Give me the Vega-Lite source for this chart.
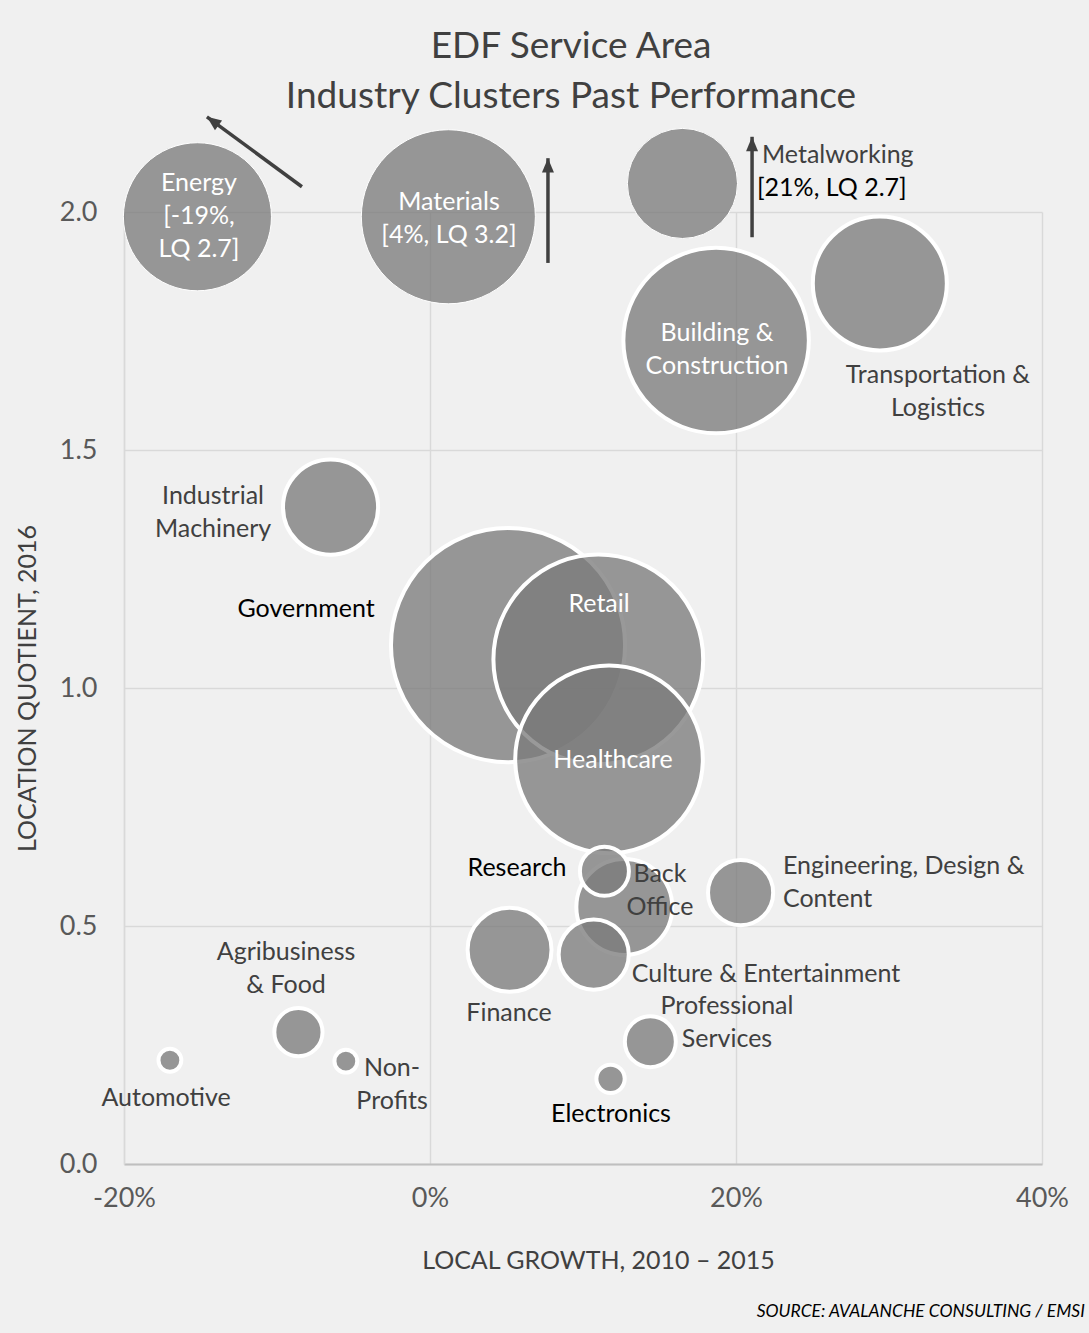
{
  "$schema": "https://vega.github.io/schema/vega-lite/v6.json",
  "autosize": "none",
  "width": 918,
  "height": 952,
  "padding": {"left": 124, "top": 212, "right": 47, "bottom": 169},
  "background": "#f0f0f0",
  "config": {
    "font": "Lato",
    "view": {"stroke": null},
    "axis": {
      "labelFont": "Lato",
      "titleFont": "Lato",
      "labelFontSize": 27,
      "labelColor": "#595959",
      "titleFontSize": 25,
      "titleFontWeight": "normal",
      "titleColor": "#404040",
      "gridColor": "#d9d9d9",
      "gridWidth": 1.5,
      "ticks": false,
      "labelFlush": false
    }
  },
  "title": {
    "text": ["EDF Service Area", "Industry Clusters Past Performance"],
    "font": "Lato",
    "fontSize": 37,
    "fontWeight": "normal",
    "color": "#404040",
    "anchor": "middle",
    "lineHeight": 50,
    "dx": -12,
    "offset": -1
  },
  "datasets": {
    "clusters": [
      {"cluster": "Energy", "growth": -15.2, "lq": 1.99, "jobs": 54.8, "offScale": true},
      {"cluster": "Materials", "growth": 1.2, "lq": 1.99, "jobs": 75.7, "offScale": true},
      {"cluster": "Metalworking", "growth": 16.5, "lq": 2.06, "jobs": 30.3, "offScale": true},
      {"cluster": "Building & Construction", "growth": 18.7, "lq": 1.73, "jobs": 86, "offScale": false},
      {"cluster": "Transportation & Logistics", "growth": 29.4, "lq": 1.85, "jobs": 44.9, "offScale": false},
      {"cluster": "Industrial Machinery", "growth": -6.5, "lq": 1.38, "jobs": 22.6, "offScale": false},
      {"cluster": "Government", "growth": 5.1, "lq": 1.09, "jobs": 137, "offScale": false},
      {"cluster": "Retail", "growth": 11.0, "lq": 1.06, "jobs": 110, "offScale": false},
      {"cluster": "Healthcare", "growth": 11.7, "lq": 0.85, "jobs": 88, "offScale": false},
      {"cluster": "Back Office", "growth": 12.7, "lq": 0.54, "jobs": 23, "offScale": false},
      {"cluster": "Research", "growth": 11.4, "lq": 0.615, "jobs": 6, "offScale": false},
      {"cluster": "Engineering, Design & Content", "growth": 20.3, "lq": 0.57, "jobs": 10.6, "offScale": false},
      {"cluster": "Finance", "growth": 5.2, "lq": 0.45, "jobs": 17.6, "offScale": false},
      {"cluster": "Culture & Entertainment", "growth": 10.7, "lq": 0.44, "jobs": 12.3, "offScale": false},
      {"cluster": "Professional Services", "growth": 14.4, "lq": 0.257, "jobs": 6.5, "offScale": false},
      {"cluster": "Electronics", "growth": 11.8, "lq": 0.179, "jobs": 2, "offScale": false},
      {"cluster": "Agribusiness & Food", "growth": -8.6, "lq": 0.277, "jobs": 5.8, "offScale": false},
      {"cluster": "Non-Profits", "growth": -5.5, "lq": 0.216, "jobs": 1.3, "offScale": false},
      {"cluster": "Automotive", "growth": -17.0, "lq": 0.218, "jobs": 1.3, "offScale": false}
    ],
    "labels": [
      {"label": "Energy\n[-19%,\nLQ 2.7]", "growth": -15.1, "lq": 2.061, "kind": "inside", "anchor": "center"},
      {"label": "Materials\n[4%, LQ 3.2]", "growth": 1.24, "lq": 2.021, "kind": "inside", "anchor": "center"},
      {"label": "Metalworking", "growth": 21.7, "lq": 2.12, "kind": "outside", "anchor": "left"},
      {"label": "[21%, LQ 2.7]", "growth": 21.37, "lq": 2.05, "kind": "emphasis", "anchor": "left"},
      {"label": "Building &\nConstruction", "growth": 18.76, "lq": 1.746, "kind": "inside", "anchor": "center"},
      {"label": "Transportation &\nLogistics", "growth": 33.2, "lq": 1.658, "kind": "outside", "anchor": "center"},
      {"label": "Industrial\nMachinery", "growth": -14.18, "lq": 1.403, "kind": "outside", "anchor": "center"},
      {"label": "Government", "growth": -8.1, "lq": 1.166, "kind": "emphasis", "anchor": "center"},
      {"label": "Retail", "growth": 11.05, "lq": 1.176, "kind": "inside", "anchor": "center"},
      {"label": "Healthcare", "growth": 11.96, "lq": 0.849, "kind": "inside", "anchor": "center"},
      {"label": "Research", "growth": 5.69, "lq": 0.622, "kind": "emphasis", "anchor": "center"},
      {"label": "Back\nOffice", "growth": 15.03, "lq": 0.609, "kind": "outside", "anchor": "center"},
      {"label": "Engineering, Design &\nContent", "growth": 23.07, "lq": 0.626, "kind": "outside", "anchor": "left"},
      {"label": "Culture & Entertainment", "growth": 21.96, "lq": 0.399, "kind": "outside", "anchor": "center"},
      {"label": "Professional\nServices", "growth": 19.41, "lq": 0.332, "kind": "outside", "anchor": "center"},
      {"label": "Finance", "growth": 5.16, "lq": 0.317, "kind": "outside", "anchor": "center"},
      {"label": "Electronics", "growth": 11.83, "lq": 0.105, "kind": "emphasis", "anchor": "center"},
      {"label": "Agribusiness\n& Food", "growth": -9.41, "lq": 0.445, "kind": "outside", "anchor": "center"},
      {"label": "Automotive", "growth": -17.25, "lq": 0.139, "kind": "outside", "anchor": "center"},
      {"label": "Non-\nProfits", "growth": -2.48, "lq": 0.202, "kind": "outside", "anchor": "center"}
    ],
    "arrows": [
      {"cluster": "Energy", "growth": -8.37, "lq": 2.053, "growth2": -14.58, "lq2": 2.2, "heading": 306.4},
      {"cluster": "Materials", "growth": 7.71, "lq": 1.893, "growth2": 7.71, "lq2": 2.113, "heading": 0},
      {"cluster": "Metalworking", "growth": 21.05, "lq": 1.947, "growth2": 21.05, "lq2": 2.158, "heading": 0}
    ],
    "notes": [
      {"note": "SOURCE: AVALANCHE CONSULTING / EMSI", "growth": 42.8, "lq": -0.311}
    ]
  },
  "encoding": {
    "x": {
      "field": "growth",
      "type": "quantitative",
      "scale": {"domain": [-20, 40], "nice": false, "zero": false},
      "axis": {
        "title": "LOCAL GROWTH, 2010 – 2015",
        "values": [-20, 0, 20, 40],
        "labelExpr": "datum.value + '%'",
        "labelPadding": 21,
        "domainColor": "#bfbfbf",
        "domainWidth": 2,
        "titleX": 474,
        "titleY": 96,
        "titleAlign": "center",
        "titleBaseline": "middle"
      }
    },
    "y": {
      "field": "lq",
      "type": "quantitative",
      "scale": {"domain": [0, 2], "nice": false},
      "axis": {
        "title": "LOCATION QUOTIENT, 2016",
        "values": [0, 0.5, 1, 1.5, 2],
        "format": ".1f",
        "labelPadding": 27,
        "domainColor": "#d9d9d9",
        "domainWidth": 1.5,
        "titleX": -97,
        "titleY": 476,
        "titleAngle": -90,
        "titleAlign": "center",
        "titleBaseline": "middle"
      }
    }
  },
  "layer": [
    {
      "data": {"name": "clusters"},
      "mark": {"type": "circle", "fill": "#7a7a7a", "fillOpacity": 0.77, "stroke": "white", "strokeOpacity": 1, "opacity": 1},
      "encoding": {
        "size": {
          "field": "jobs",
          "type": "quantitative",
          "scale": {"type": "linear", "domain": [0, 100], "range": [0, 40000], "zero": true},
          "legend": null
        },
        "strokeWidth": {
          "condition": {"test": "datum.offScale", "value": 1},
          "value": 4
        }
      }
    },
    {
      "data": {"name": "arrows"},
      "mark": {"type": "rule", "color": "#404040", "strokeWidth": 3.5},
      "encoding": {
        "x2": {"field": "growth2"},
        "y2": {"field": "lq2"}
      }
    },
    {
      "data": {"name": "arrows"},
      "mark": {"type": "point", "shape": "M0,0 L-1,2.4 L1,2.4 Z", "filled": true, "fill": "#404040", "stroke": null, "size": 144, "opacity": 1},
      "encoding": {
        "x": {"field": "growth2", "type": "quantitative"},
        "y": {"field": "lq2", "type": "quantitative"},
        "angle": {"field": "heading", "type": "quantitative", "scale": {"domain": [0, 360], "range": [0, 360]}}
      }
    },
    {
      "data": {"name": "labels"},
      "transform": [{"filter": "datum.anchor === 'center'"}],
      "mark": {"type": "text", "fontSize": 25, "lineBreak": "\n", "lineHeight": 33, "align": "center", "baseline": "middle"},
      "encoding": {
        "text": {"field": "label"},
        "color": {
          "field": "kind",
          "type": "nominal",
          "scale": {"domain": ["inside", "outside", "emphasis"], "range": ["#ffffff", "#404040", "#000000"]},
          "legend": null
        }
      }
    },
    {
      "data": {"name": "labels"},
      "transform": [{"filter": "datum.anchor === 'left'"}],
      "mark": {"type": "text", "fontSize": 25, "lineBreak": "\n", "lineHeight": 33, "align": "left", "baseline": "middle"},
      "encoding": {
        "text": {"field": "label"},
        "color": {
          "field": "kind",
          "type": "nominal",
          "scale": {"domain": ["inside", "outside", "emphasis"], "range": ["#ffffff", "#404040", "#000000"]},
          "legend": null
        }
      }
    },
    {
      "data": {"name": "notes"},
      "mark": {"type": "text", "fontSize": 17.5, "fontStyle": "italic", "color": "#000000", "align": "right", "baseline": "middle"},
      "encoding": {
        "text": {"field": "note"}
      }
    }
  ]
}
